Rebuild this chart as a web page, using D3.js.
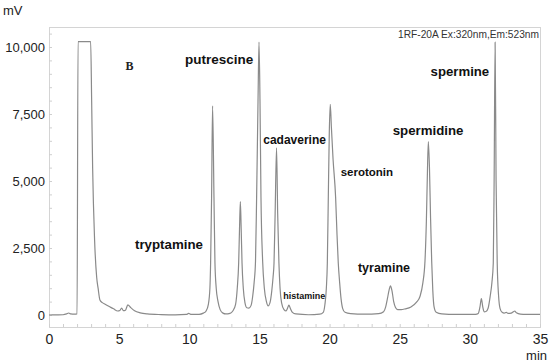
<!DOCTYPE html>
<html><head><meta charset="utf-8">
<script src="https://cdn.jsdelivr.net/npm/d3@7/dist/d3.min.js"></script>
<style>body{margin:0;background:#fff} svg{display:block;font-family:"Liberation Sans",Arial,sans-serif}</style>
</head><body>
<svg id="c" width="550" height="363"></svg>
<script>
// ---- data ----
const xTicks = [0, 5, 10, 15, 20, 25, 30, 35];
const yTicks = [0, 2500, 5000, 7500, 10000];
const detectorLabel = "1RF-20A Ex:320nm,Em:523nm";
const panelLabel = "B";
const peakNames = ["tryptamine", "putrescine", "cadaverine", "histamine", "serotonin", "tyramine", "spermidine", "spermine"];
// chromatogram trace: [time (min), signal (mV)]
const trace = [
  [0,0],[0.5,5],[1.0,10],[1.25,40],[1.4,75],[1.55,40],[1.8,30],[2.0,40],[2.07,10200],[2.97,10200],
  [3.04,8000],[3.11,5500],[3.25,2800],[3.4,1400],[3.5,1000],[3.63,560],[3.8,460],[4.0,400],[4.35,300],
  [4.6,230],[4.9,150],[5.05,170],[5.18,260],[5.3,160],[5.45,180],[5.62,380],[5.8,290],[6.1,160],[6.5,80],
  [7.0,40],[8.0,15],[9.0,5],[9.8,20],[9.95,60],[10.1,25],[10.7,25],[11.0,70],[11.2,150],[11.36,400],
  [11.47,1000],[11.52,1940],[11.59,4400],[11.66,7800],[11.76,4400],[11.83,1940],[11.92,1000],[12.05,500],
  [12.2,200],[12.4,70],[12.6,40],[12.9,60],[13.1,150],[13.3,400],[13.42,1000],[13.52,1940],[13.58,3200],
  [13.64,4230],[13.7,3200],[13.76,1940],[13.85,1000],[13.97,450],[14.1,270],[14.25,260],[14.4,350],
  [14.52,700],[14.62,1200],[14.72,2000],[14.8,4400],[14.9,8000],[14.97,10180],[15.04,8000],[15.11,4400],
  [15.23,2000],[15.35,1000],[15.5,500],[15.62,340],[15.75,450],[15.88,900],[15.97,1400],[16.04,1940],
  [16.12,3800],[16.22,6240],[16.3,3800],[16.39,1940],[16.47,1000],[16.58,450],[16.75,200],[16.9,150],
  [17.0,250],[17.1,370],[17.2,250],[17.35,100],[17.6,40],[18.5,10],[19.3,30],[19.55,100],[19.67,400],
  [19.77,1000],[19.84,1940],[19.91,4400],[19.98,6800],[20.05,7860],[20.13,7000],[20.25,5800],[20.43,4400],
  [20.53,3000],[20.62,1940],[20.72,1200],[20.82,600],[20.93,250],[21.1,100],[21.5,50],[22.5,30],[23.5,50],
  [23.85,120],[24.0,300],[24.12,600],[24.25,950],[24.34,1090],[24.45,900],[24.57,500],[24.7,280],[24.85,200],
  [25.1,200],[25.4,230],[25.8,300],[26.2,480],[26.45,700],[26.65,1200],[26.8,2000],[26.9,3500],[26.97,5200],
  [27.04,6470],[27.12,5500],[27.2,3600],[27.28,2000],[27.36,900],[27.45,300],[27.6,100],[28.0,40],[29.0,20],
  [30.4,25],[30.6,60],[30.72,300],[30.82,610],[30.92,300],[31.02,120],[31.15,130],[31.3,250],[31.45,700],
  [31.57,1200],[31.67,1940],[31.73,5000],[31.8,10180],[31.87,5000],[31.95,1940],[32.05,700],[32.15,250],
  [32.3,100],[32.45,70],[32.6,100],[32.72,60],[32.95,70],[33.1,120],[33.2,150],[33.32,80],[33.6,30],
  [34.0,20],[35.0,20]
];

// ---- layout ----
const W = 550, H = 363;
const frame = {left: 49, right: 540, top: 27, bottom: 327};
const x = d3.scaleLinear().domain([0, 35]).range([49, 540]);
const y = d3.scaleLinear().domain([0, 10000]).range([315, 47]);

// label placement in data units
const labelLayout = {
  tryptamine: {t: 6.13, v: 2638, size: 13.3},
  putrescine: {t: 9.69, v: 9552, size: 13.5},
  cadaverine: {t: 15.27, v: 6530, size: 12},
  histamine:  {t: 16.7, v: 720, size: 9},
  serotonin:  {t: 20.79, v: 5347, size: 11.5},
  tyramine:   {t: 22.02, v: 1754, size: 12.5},
  spermidine: {t: 24.5, v: 6903, size: 13.25},
  spermine:   {t: 27.2, v: 9078, size: 13.2}
};

const svg = d3.select("#c");
svg.append("rect").attr("width", W).attr("height", H).attr("fill", "#fff");

// frame
svg.append("rect")
  .attr("x", frame.left + 0.5).attr("y", frame.top + 0.5)
  .attr("width", frame.right - frame.left).attr("height", frame.bottom - frame.top)
  .attr("fill", "none").attr("stroke", "#d4d4d4").attr("stroke-width", 1);

// x axis
const gx = svg.append("g").attr("transform", `translate(0,${frame.bottom})`);
gx.call(d3.axisBottom(x).tickValues(d3.range(0, 36, 1)).tickSize(-3).tickFormat(""));
gx.call(g => g.select(".domain").remove());
gx.selectAll("line").attr("stroke", "#cfcfcf");
const gx2 = svg.append("g").attr("transform", `translate(0,${frame.bottom})`);
gx2.call(d3.axisBottom(x).tickValues(xTicks).tickSize(0).tickPadding(7));
gx2.call(g => g.select(".domain").remove());
gx2.selectAll("text").attr("font-size", 14).attr("fill", "#222")
  .attr("font-family", '"Liberation Sans",Arial,sans-serif');

// y axis
const gy = svg.append("g").attr("transform", `translate(${frame.left},0)`);
gy.call(d3.axisLeft(y).tickValues(d3.range(0, 10501, 500)).tickSize(-3).tickFormat(""));
gy.call(g => g.select(".domain").remove());
gy.selectAll("line").attr("stroke", "#cfcfcf");
const gy2 = svg.append("g").attr("transform", `translate(${frame.left},0)`);
gy2.call(d3.axisLeft(y).tickValues(yTicks).tickSize(0).tickPadding(4).tickFormat(d3.format(",")));
gy2.call(g => g.select(".domain").remove());
gy2.selectAll("text").attr("font-size", 13).attr("fill", "#222")
  .attr("font-family", '"Liberation Sans",Arial,sans-serif');

// axis units
svg.append("text").attr("x", 3).attr("y", 10).attr("dy", "0.35em")
  .attr("font-size", 13).attr("fill", "#222").text("mV");
svg.append("text").attr("x", 547).attr("y", 355).attr("dy", "0.35em").attr("text-anchor", "end")
  .attr("font-size", 13).attr("fill", "#222").text("min");

// detector annotation
svg.append("text").attr("x", frame.right - 1).attr("y", 34).attr("dy", "0.35em").attr("text-anchor", "end")
  .attr("font-size", 10.2).attr("fill", "#333").text(detectorLabel);

// trace
const line = d3.line().x(d => x(d[0])).y(d => y(d[1])).curve(d3.curveMonotoneX);
svg.append("path").datum(trace)
  .attr("d", line).attr("fill", "none").attr("stroke", "#8a8a8a").attr("stroke-width", 1.2)
  .attr("stroke-linejoin", "round");

// peak labels
svg.append("g").selectAll("text").data(peakNames).join("text")
  .attr("x", d => x(labelLayout[d].t))
  .attr("y", d => y(labelLayout[d].v))
  .attr("dy", "0.35em")
  .attr("font-size", d => labelLayout[d].size)
  .attr("font-weight", "bold")
  .attr("fill", "#111")
  .text(d => d);

// panel label
svg.append("text").attr("x", x(5.45)).attr("y", y(9291)).attr("dy", "0.35em")
  .attr("font-family", '"Liberation Serif","Times New Roman",serif')
  .attr("font-weight", "bold").attr("font-size", 12).attr("fill", "#222").text(panelLabel);
</script></body></html>
